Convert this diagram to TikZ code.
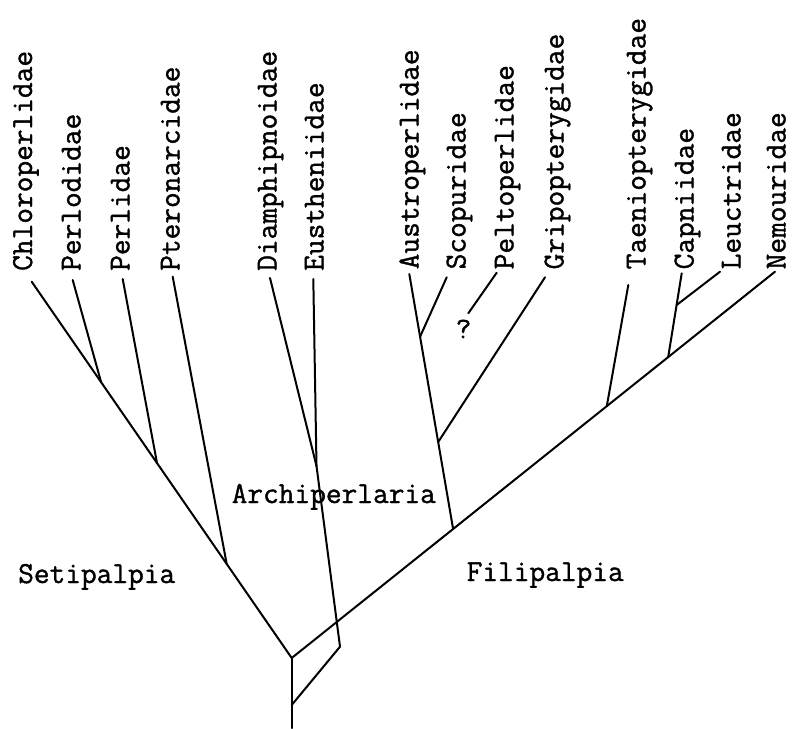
\documentclass[tikz,border=0pt]{standalone}
\usepackage{fontspec}
\newfontfamily\typew[FakeBold=1.2]{Latin Modern Mono}
\usetikzlibrary{calc}
\tikzset{
  branch/.style={line width=2pt, line cap=round, line join=round, black},
  taxon/.style={font=\typew\fontsize{30.5}{36}\selectfont, rotate=90, anchor=base west, inner sep=0pt, text depth=0pt},
  group/.style={font=\typew\fontsize{30.5}{36}\selectfont, anchor=base west, inner sep=0pt},
}
\begin{document}
\begin{tikzpicture}[x=1pt,y=-1pt]
\path[use as bounding box, fill=white] (0,0) rectangle (792,728);

% labels
\node[taxon] (lChl) at (32,271) {Chloroperlidae};
\node[taxon] (lPlo) at (80.5,271) {Perlodidae};
\node[taxon] (lPer) at (129.5,271) {Perlidae};
\node[taxon] (lPte) at (179.5,271) {Pteronarcidae};
\node[taxon] (lDia) at (276.5,271) {Diamphipnoidae};
\node[taxon] (lEus) at (323.5,271) {Eustheniidae};
\node[taxon] (lAus) at (418.5,269.5) {Austroperlidae};
\node[taxon] (lSco) at (465.5,269.5) {Scopuridae};
\node[taxon] (lPel) at (513.5,269.5) {Peltoperlidae};
\node[taxon] (lGri) at (563.5,269.5) {Gripopterygidae};
\node[taxon] (lTae) at (645.5,269.5) {Taeniopterygidae};
\node[taxon] (lCap) at (693.5,269.5) {Capniidae};
\node[taxon] (lLeu) at (740.5,269.5) {Leuctridae};
\node[taxon] (lNem) at (785.5,269.5) {Nemouridae};

\node[group] (gSet) at (18,583) {Setipalpia};
\node[group] (gFil) at (466.5,581) {Filipalpia};
\node[group] (gArc) at (231.5,503) {Archiperlaria};
\node[group, anchor=center, font=\typew\fontsize{30}{34}\selectfont] (qm) at (463.5,329) {?};

% tips
\coordinate (tChl) at (31.7,281.7);
\coordinate (tPlo) at (72.7,280);
\coordinate (tPer) at (122.7,279);
\coordinate (tPte) at (172.7,276.7);
\coordinate (tDia) at (270,278);
\coordinate (tEus) at (313.3,279);
\coordinate (tAus) at (409.3,274);
\coordinate (tSco) at (446.7,277.3);
\coordinate (tPelA) at (468.3,313.3);
\coordinate (tPelB) at (496.7,272.7);
\coordinate (tGri) at (545,277.3);
\coordinate (tTae) at (628.3,285);
\coordinate (tCap) at (681.7,273.3);
\coordinate (tLeu) at (720,271.7);
\coordinate (tNem) at (775,271.7);

% internal nodes
\coordinate (root) at (291.7,728);
\coordinate (nA) at (291.7,705);
\coordinate (nB) at (291.7,658);
\coordinate (nC) at (340,646.7);
\coordinate (nD) at (316.5,466);
\coordinate (s3) at ($(nB)!0.25!(tChl)$);
\coordinate (s2) at ($(nB)!0.518!(tChl)$);
\coordinate (s1) at ($(nB)!0.733!(tChl)$);
\coordinate (f1) at ($(nB)!0.334!(tNem)$);
\coordinate (f4) at ($(nB)!0.652!(tNem)$);
\coordinate (f5) at ($(nB)!0.779!(tNem)$);
\coordinate (f2) at ($(f1)!0.341!(tAus)$);
\coordinate (f3) at ($(f1)!0.754!(tAus)$);
\coordinate (f6) at ($(f5)!0.621!(tCap)$);

% branches
\draw[branch] (root) -- (nA) -- (nB);
\draw[branch] (nA) -- (nC) -- (nD);
\draw[branch] (nD) -- (tDia);
\draw[branch] (nD) -- (tEus);
\draw[branch] (nB) -- (tChl);
\draw[branch] (s1) -- (tPlo);
\draw[branch] (s2) -- (tPer);
\draw[branch] (s3) -- (tPte);
\draw[branch] (nB) -- (tNem);
\draw[branch] (f1) -- (tAus);
\draw[branch] (f3) -- (tSco);
\draw[branch] (f2) -- (tGri);
\draw[branch] (tPelA) -- (tPelB);
\draw[branch] (f4) -- (tTae);
\draw[branch] (f5) -- (tCap);
\draw[branch] (f6) -- (tLeu);
\end{tikzpicture}
\end{document}
